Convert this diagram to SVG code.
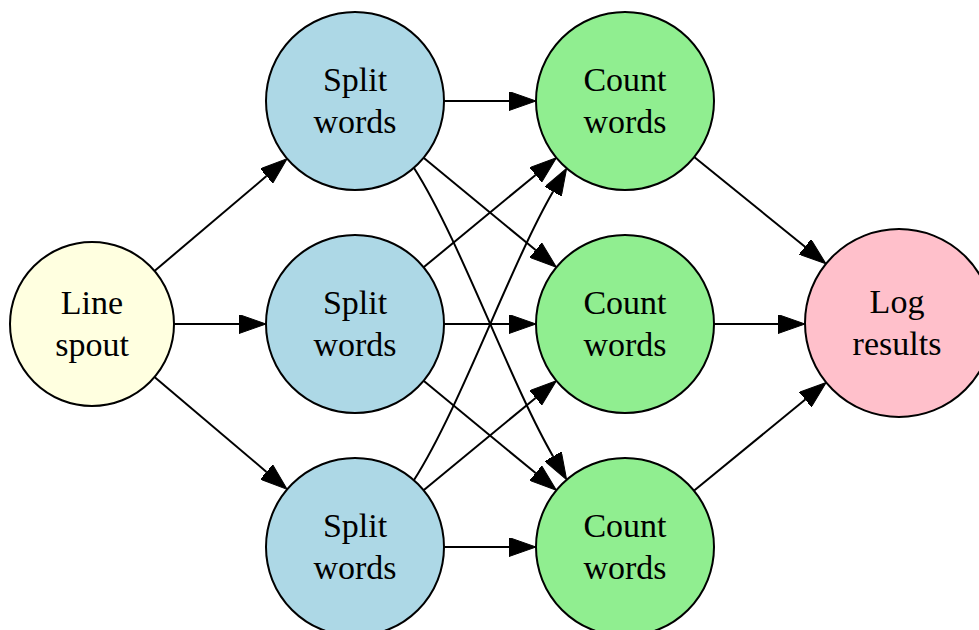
<svg xmlns="http://www.w3.org/2000/svg" width="979" height="630" viewBox="0 0 979 630">
  <style>
    .node circle { stroke: #000; stroke-width: 2; }
    .node text { font-family: "Liberation Serif", "Times New Roman", serif; font-size: 34px; fill: #000; text-anchor: middle; }
    .spout circle { fill: #ffffe0; }
    .split circle { fill: #add8e6; }
    .count circle { fill: #90ee90; }
    .log circle { fill: #ffc0cb; }
    #edges path { fill: none; stroke: #000; stroke-width: 2; marker-end: url(#arrow); }
  </style>
  <defs>
    <marker id="arrow" viewBox="0 0 27 19" refX="0" refY="9.5" markerWidth="27" markerHeight="19" markerUnits="userSpaceOnUse" orient="auto">
      <polygon points="0,0 27,9.5 0,19" fill="#000" stroke="#000" stroke-width="1"/>
    </marker>
  </defs>
  <rect width="979" height="630" fill="#fff"/>

  <g id="edges">
    <!-- spout to splitters -->
    <path d="M154.5,271 L266.5,176.1"/>
    <path d="M174,324 L239,324"/>
    <path d="M154.5,377 L266.5,471.9"/>
    <!-- splitters to counters -->
    <path d="M444,101 L509,101"/>
    <path d="M423.6,157.7 L535.6,250.1"/>
    <path d="M414,168 C460,240 510,382 553.1,456.4"/>
    <path d="M423.6,267.3 L535.6,174.9"/>
    <path d="M444,324 L509,324"/>
    <path d="M423.6,380.7 L535.6,473.1"/>
    <path d="M414,480 C460,408 510,266 553.1,191.6"/>
    <path d="M423.6,490.3 L535.6,397.9"/>
    <path d="M444,547 L509,547"/>
    <!-- counters to logger -->
    <path d="M694.2,157 L805,246.8"/>
    <path d="M714,324 L778,324"/>
    <path d="M693.9,490.7 L805.3,399.6"/>
  </g>

  <g id="line_spout" class="node spout">
    <circle cx="92" cy="324" r="82"/>
    <text x="92" y="313.5">Line</text>
    <text x="92" y="355.5">spout</text>
  </g>

  <g id="split_1" class="node split">
    <circle cx="355" cy="101" r="89"/>
    <text x="355" y="90.5">Split</text>
    <text x="355" y="132.5">words</text>
  </g>
  <g id="split_2" class="node split">
    <circle cx="355" cy="324" r="89"/>
    <text x="355" y="313.5">Split</text>
    <text x="355" y="355.5">words</text>
  </g>
  <g id="split_3" class="node split">
    <circle cx="355" cy="547" r="89"/>
    <text x="355" y="536.5">Split</text>
    <text x="355" y="578.5">words</text>
  </g>

  <g id="count_1" class="node count">
    <circle cx="625" cy="101" r="89"/>
    <text x="625" y="90.5">Count</text>
    <text x="625" y="132.5">words</text>
  </g>
  <g id="count_2" class="node count">
    <circle cx="625" cy="324" r="89"/>
    <text x="625" y="313.5">Count</text>
    <text x="625" y="355.5">words</text>
  </g>
  <g id="count_3" class="node count">
    <circle cx="625" cy="547" r="89"/>
    <text x="625" y="536.5">Count</text>
    <text x="625" y="578.5">words</text>
  </g>

  <g id="log_results" class="node log">
    <circle cx="899" cy="323" r="94"/>
    <text x="897" y="312.5">Log</text>
    <text x="897" y="354.5">results</text>
  </g>
</svg>
